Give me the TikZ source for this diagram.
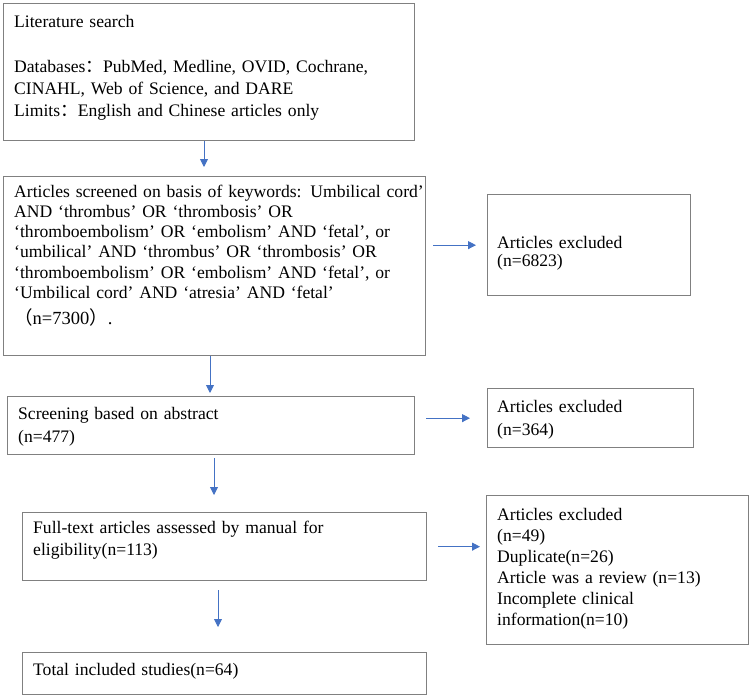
\documentclass[tikz,border=0pt]{standalone}
\usepackage{fontspec}
\setmainfont{Liberation Serif}
\newfontfamily\cjk{Noto Sans CJK SC}
\usetikzlibrary{arrows.meta}
\definecolor{boxgray}{RGB}{128,128,128}
\definecolor{arrblue}{RGB}{68,114,196}
\begin{document}
\begin{tikzpicture}[x=1pt,y=-1pt,
  box/.style={draw=boxgray,line width=1.3pt,inner sep=0pt,anchor=north west},
  txt/.style={anchor=base west,inner sep=0pt,text width=430pt,align=left,font=\fontsize{17.6}{21}\selectfont},
  arr/.style={draw=arrblue,line width=0.9pt,-{Triangle[length=8pt,width=8pt]}}]
\useasboundingbox (0,0) rectangle (750,699);
% boxes
\node[box,minimum width=411pt,minimum height=137pt] (b1) at (3,3) {};
\node[box,minimum width=422pt,minimum height=179pt] (b2) at (3,176) {};
\node[box,minimum width=203pt,minimum height=101pt] (r1) at (487,194) {};
\node[box,minimum width=407pt,minimum height=58pt] (b3) at (7,396) {};
\node[box,minimum width=206pt,minimum height=59pt] (r2) at (487,388) {};
\node[box,minimum width=404pt,minimum height=68pt] (b4) at (22,512) {};
\node[box,minimum width=262pt,minimum height=149pt] (r3) at (486,495) {};
\node[box,minimum width=404pt,minimum height=42pt] (b5) at (22,652) {};
% texts
\node[txt,font=\fontsize{17.6}{22}\selectfont] (t1) at (14,27) {Literature search\\[23pt]Databases{\cjk ：}PubMed, Medline, OVID, Cochrane,\\CINAHL, Web of Science, and DARE\\Limits{\cjk ：}English and Chinese articles only};
\node[txt,font=\fontsize{17.6}{20.3}\selectfont] (t2) at (14,197) {Articles screened on basis of keywords: Umbilical cord’\\AND ‘thrombus’ OR ‘thrombosis’ OR\\‘thromboembolism’ OR ‘embolism’ AND ‘fetal’, or\\‘umbilical’ AND ‘thrombus’ OR ‘thrombosis’ OR\\‘thromboembolism’ OR ‘embolism’ AND ‘fetal’, or\\‘Umbilical cord’ AND ‘atresia’ AND ‘fetal’\\[6pt]{\fontsize{18.5}{20.3}\selectfont{\cjk （}n=7300{\cjk ）}.}};
\node[txt,font=\fontsize{17.6}{18}\selectfont] (tr1) at (497,248) {Articles excluded\\(n=6823)};
\node[txt,font=\fontsize{17.6}{23}\selectfont] (t3) at (18,419) {Screening based on abstract\\(n=477)};
\node[txt,font=\fontsize{17.6}{23}\selectfont] (tr2) at (497,412) {Articles excluded\\(n=364)};
\node[txt,font=\fontsize{17.6}{22}\selectfont] (t4) at (33,533) {Full-text articles assessed by manual for\\eligibility(n=113)};
\node[txt] (tr3) at (497,520) {Articles excluded\\(n=49)\\Duplicate(n=26)\\Article was a review (n=13)\\Incomplete clinical\\information(n=10)};
\node[txt] (t5) at (33,675) {Total included studies(n=64)};
% arrow x positions
\coordinate (ax1) at (204,0);
\coordinate (ax2) at (210,0);
\coordinate (ax3) at (214,0);
\coordinate (ax4) at (218,0);
% vertical connectors
\draw[arr,shorten >=9pt] (b1.south -| ax1) -- (b2.north -| ax1);
\draw[arr,shorten >=3pt] (b2.south -| ax2) -- (b3.north -| ax2);
\draw[arr,shorten <=3pt,shorten >=17pt] (b3.south -| ax3) -- (b4.north -| ax3);
\draw[arr,shorten <=9pt,shorten >=25pt] (b4.south -| ax4) -- (b5.north -| ax4);
% horizontal connectors
\draw[arr,shorten <=7pt,shorten >=11pt] (r1.west -| b2.east) -- (r1.west);
\draw[arr,shorten <=11pt,shorten >=17pt] (r2.west -| b3.east) -- (r2.west);
\draw[arr,shorten <=11pt,shorten >=6pt] (b4.east) -- (b4.east -| r3.west);
\end{tikzpicture}
\end{document}
